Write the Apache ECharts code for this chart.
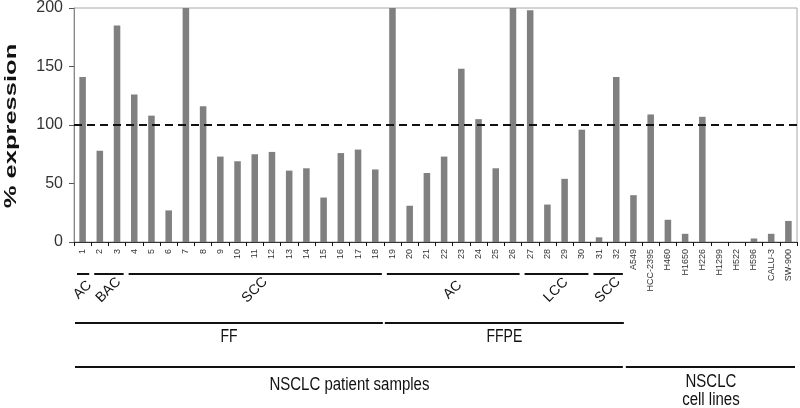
<!DOCTYPE html>
<html><head><meta charset="utf-8">
<script src="https://cdn.jsdelivr.net/npm/echarts@6/dist/echarts.min.js"></script>
<style>html,body{margin:0;padding:0;background:#fff}#c{width:800px;height:408px}</style>
</head><body><div id="c"></div>
<script>
const categories = ['1','2','3','4','5','6','7','8','9','10','11','12','13','14','15','16','17','18','19','20','21','22','23','24','25','26','27','28','29','30','31','32',
  'A549','HCC-2395','H460','H1650','H226','H1299','H522','H596','CALU-3','SW-900'];
const expression = [141,78,185,126,108,27,200,116,73,69,75,77,61,63,38,76,79,62,200,31,59,73,148,105,63,200,198,32,54,96,4,141,
  40,109,19,7,107,0,0,3,7,18];
const yTicks = [0,50,100,150,200];
const threshold = 100;
const yTitle = '% expression';
// groups: [label, firstIndex, lastIndex]
const histology = [['AC',0,0],['BAC',1,2],['SCC',3,17],['AC',18,25],['LCC',26,29],['SCC',30,31]];
const material = [['FF',0,17],['FFPE',18,31]];
const source = [['NSCLC patient samples',0,31],['NSCLC\ncell lines',32,41]];

const chart = echarts.init(document.getElementById('c'));
const FONT = 'Arial, "Liberation Sans", sans-serif';
chart.setOption({
  animation:false,
  grid:{left:74,right:3,top:7,bottom:166,show:true,borderColor:'#a8a8a8',borderWidth:1},
  xAxis:{type:'category',data:categories,
    axisLine:{lineStyle:{color:'#333',width:1}},
    axisTick:{show:true,length:4,lineStyle:{color:'#111'}},
    axisLabel:{rotate:90,fontSize:9,color:'#333',fontFamily:FONT,margin:7,interval:0}},
  yAxis:{type:'value',min:0,max:200,interval:50,
    axisLine:{show:true,lineStyle:{color:'#888'}},
    axisTick:{show:true,length:5,lineStyle:{color:'#555'}},
    axisLabel:{fontSize:16,color:'#333',fontFamily:FONT,margin:11,
      formatter:v=>yTicks.includes(v)?String(v):''},
    splitLine:{show:false}},
  series:[{type:'bar',data:expression,barWidth:'38%',itemStyle:{color:'#808080'},
    markLine:{silent:true,symbol:['none','none'],label:{show:false},
      lineStyle:{color:'#111',type:[8,5],width:2},data:[{yAxis:threshold}]}}]
});

function bounds(a,b){
  const c0 = chart.convertToPixel({xAxisIndex:0},0);
  const c1 = chart.convertToPixel({xAxisIndex:0},1);
  const step = c1-c0;
  return [chart.convertToPixel({xAxisIndex:0},a)-step/2, chart.convertToPixel({xAxisIndex:0},b)+step/2];
}
const g = [];
function line(x1,x2,y){g.push({type:'line',shape:{x1:x1,y1:y,x2:x2,y2:y},style:{stroke:'#111',lineWidth:2}});}
// y-axis title
const yMid = (chart.convertToPixel({yAxisIndex:0},yTicks[0])+chart.convertToPixel({yAxisIndex:0},yTicks[yTicks.length-1]))/2;
g.push({type:'text',x:11,y:yMid+1,rotation:Math.PI/2,scaleX:1.5,
  style:{text:yTitle,font:'bold 17px '+FONT,fill:'#111',align:'center',verticalAlign:'middle'}});
histology.forEach(([t,a,b])=>{
  const [x1,x2]=bounds(a,b);
  line(x1+3,x2-2,274);
  g.push({type:'text',x:(x1+x2)/2,y:290,rotation:Math.PI/4,
    style:{text:t,font:'14px '+FONT,fill:'#111',align:'center',verticalAlign:'middle'}});
});
material.forEach(([t,a,b])=>{
  const [x1,x2]=bounds(a,b);
  line(x1+1,x2-1,323);
  g.push({type:'text',x:(x1+x2)/2,y:337,scaleY:1.3,
    style:{text:t,font:'14px '+FONT,fill:'#111',align:'center',verticalAlign:'middle'}});
});
source.forEach(([t,a,b])=>{
  const [x1,x2]=bounds(a,b);
  line(x1+1,x2-2,367);
  const multi = t.includes('\n');
  g.push({type:'text',x:(x1+x2)/2,y:multi?391:385,scaleY:1.25,
    style:{text:t,font:'15px '+FONT,fill:'#111',align:'center',verticalAlign:'middle',lineHeight:14.5}});
});
chart.setOption({graphic:g});
</script></body></html>
